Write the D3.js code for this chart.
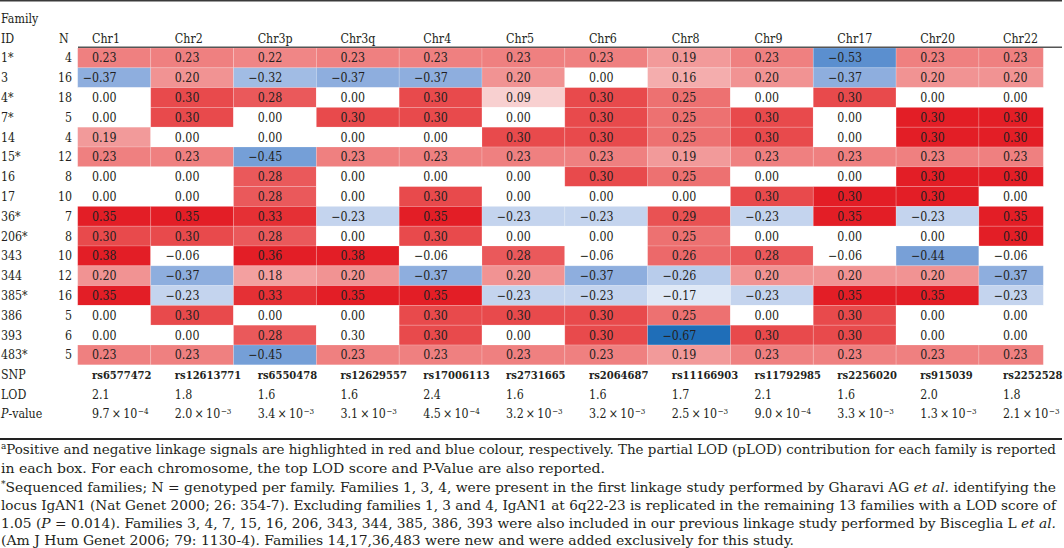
<!DOCTYPE html>
<html><head><meta charset="utf-8">
<script src="https://cdn.jsdelivr.net/npm/d3@7"></script>
<style>body{margin:0;background:#fff} svg{display:block}</style>
</head><body><svg id="chart" width="1064" height="548"></svg>
<script>
// ---------------- DATA ----------------
const chromosomes = ["Chr1","Chr2","Chr3p","Chr3q","Chr4","Chr5","Chr6","Chr8","Chr9","Chr17","Chr20","Chr22"];
const families = ["1*","3","4*","7*","14","15*","16","17","36*","206*","343","344","385*","386","393","483*"];
const familyN = [4,16,18,5,4,12,8,10,7,8,10,12,16,5,6,5];
const pLOD = [
  [0.23, 0.23, 0.22, 0.23, 0.23, 0.23, 0.23, 0.19, 0.23, -0.53, 0.23, 0.23],
  [-0.37, 0.20, -0.32, -0.37, -0.37, 0.20, 0.00, 0.16, 0.20, -0.37, 0.20, 0.20],
  [0.00, 0.30, 0.28, 0.00, 0.30, 0.09, 0.30, 0.25, 0.00, 0.30, 0.00, 0.00],
  [0.00, 0.30, 0.00, 0.30, 0.30, 0.00, 0.30, 0.25, 0.30, 0.00, 0.30, 0.30],
  [0.19, 0.00, 0.00, 0.00, 0.00, 0.30, 0.30, 0.25, 0.30, 0.00, 0.30, 0.30],
  [0.23, 0.23, -0.45, 0.23, 0.23, 0.23, 0.23, 0.19, 0.23, 0.23, 0.23, 0.23],
  [0.00, 0.00, 0.28, 0.00, 0.00, 0.00, 0.30, 0.25, 0.00, 0.00, 0.30, 0.30],
  [0.00, 0.00, 0.28, 0.00, 0.30, 0.00, 0.00, 0.00, 0.30, 0.30, 0.30, 0.00],
  [0.35, 0.35, 0.33, -0.23, 0.35, -0.23, -0.23, 0.29, -0.23, 0.35, -0.23, 0.35],
  [0.30, 0.30, 0.28, 0.00, 0.30, 0.00, 0.00, 0.25, 0.00, 0.00, 0.00, 0.30],
  [0.38, -0.06, 0.36, 0.38, -0.06, 0.28, -0.06, 0.26, 0.28, -0.06, -0.44, -0.06],
  [0.20, -0.37, 0.18, 0.20, -0.37, 0.20, -0.37, -0.26, 0.20, 0.20, 0.20, -0.37],
  [0.35, -0.23, 0.33, 0.35, 0.35, -0.23, -0.23, -0.17, -0.23, 0.35, 0.35, -0.23],
  [0.00, 0.30, 0.00, 0.00, 0.30, 0.30, 0.30, 0.25, 0.00, 0.30, 0.00, 0.00],
  [0.00, 0.00, 0.28, 0.30, 0.30, 0.00, 0.30, -0.67, 0.30, 0.30, 0.00, 0.00],
  [0.23, 0.23, -0.45, 0.23, 0.23, 0.23, 0.23, 0.19, 0.23, 0.23, 0.23, 0.23]
];
// cells highlighted more strongly / left unhighlighted in the original
const strongCells = [["7*","Chr20"],["14","Chr20"],["16","Chr20"],["17","Chr20"],["17","Chr17"],
                     ["7*","Chr22"],["14","Chr22"],["16","Chr22"],["206*","Chr22"]];
const plainCells = [["393","Chr3q"]];
const snps = ["rs6577472","rs12613771","rs6550478","rs12629557","rs17006113","rs2731665","rs2064687","rs11166903","rs11792985","rs2256020","rs915039","rs2252528"];
const lodScores = ["2.1","1.8","1.6","1.6","2.4","1.6","1.6","1.7","2.1","1.6","2.0","1.8"];
const pMantissa = ["9.7","2.0","3.4","3.1","4.5","3.2","3.2","2.5","9.0","3.3","1.3","2.1"];
const pExponent = [-4,-3,-3,-3,-4,-3,-3,-3,-4,-3,-3,-3];

// ---------------- LAYOUT ----------------
const svg = d3.select("#chart");
const ink = "#231f20";
const tableFont = "'DejaVu Serif Condensed', 'DejaVu Serif', serif";
const fs = 12.3;

const xText = d3.scalePoint().domain(chromosomes).range([92, 1003]);
const y = d3.scaleBand().domain(families).range([48, 364.8]);
const cellLeftStart = 77.7, cellRightEnd = 1043.3;

function styleText(sel, size) {
  return sel.attr("font-family", tableFont).attr("font-stretch", "condensed")
    .attr("font-size", size || fs).attr("fill", ink);
}

// measure width of a value string
const probe = styleText(svg.append("text")).text("0.00");
const valW = probe.node().getComputedTextLength();
probe.remove();

function edge(i) {
  if (i === 0) return cellLeftStart;
  if (i === chromosomes.length) return cellRightEnd;
  return (xText(chromosomes[i-1]) + xText(chromosomes[i])) / 2 + valW / 2 + 5;
}

const color = d3.scaleLinear()
  .domain([-0.67, -0.53, -0.37, -0.23, -0.10, 0, 0.09, 0.16, 0.23, 0.30, 0.35])
  .range(["#1f6eb8", "#5b8fcf", "#8eaede", "#c4d4ee", "#ffffff", "#ffffff",
          "#f8d0d0", "#f4adad", "#ef8080", "#e84a4c", "#e31e26"])
  .clamp(true);
const strongSet = new Set(strongCells.map(d => d.join("|")));
const plainSet = new Set(plainCells.map(d => d.join("|")));
function fillFor(f, c, v) {
  const k = f + "|" + c;
  if (plainSet.has(k)) return "#ffffff";
  if (strongSet.has(k)) return color(0.35);
  return color(v);
}

const cells = [];
families.forEach((f, r) => chromosomes.forEach((c, i) => cells.push({f, c, i, v: pLOD[r][i]})));

const g = svg.append("g");
g.selectAll("rect.cell").data(cells).join("rect")
  .attr("class", "cell")
  .attr("x", d => edge(d.i))
  .attr("width", d => edge(d.i + 1) - edge(d.i))
  .attr("y", d => y(d.f))
  .attr("height", y.bandwidth())
  .attr("fill", d => fillFor(d.f, d.c, d.v))
  .attr("stroke", "#ffffff").attr("stroke-opacity", 0.22).attr("stroke-width", 0.8);

const fmt = d3.format(".2f");
styleText(g.selectAll("text.val").data(cells).join("text"))
  .attr("class", "val")
  .attr("x", d => xText(d.c) + valW)
  .attr("y", d => y(d.f) + y.bandwidth() / 2)
  .attr("dy", "0.36em")
  .attr("text-anchor", "end")
  .text(d => fmt(d.v));

// rules
svg.append("line").attr("x1", 0).attr("x2", 1062).attr("y1", 0.8).attr("y2", 0.8)
  .attr("stroke", "#3a3a3a").attr("stroke-width", 1.6);
svg.append("line").attr("x1", 78).attr("x2", 1062).attr("y1", 47.3).attr("y2", 47.3)
  .attr("stroke", "#555").attr("stroke-width", 1.6);
svg.append("line").attr("x1", 0).attr("x2", 1062).attr("y1", 439).attr("y2", 439)
  .attr("stroke", "#222").attr("stroke-width", 2);

function label(x, yy, txt, anchor) {
  return styleText(svg.append("text")).attr("x", x).attr("y", yy).attr("dy", "0.36em")
    .attr("text-anchor", anchor || "start").text(txt);
}

// header
label(1, 19, "Family");
label(1, 39, "ID");
label(59, 39, "N");
styleText(svg.append("g").selectAll("text").data(chromosomes).join("text"))
  .attr("x", d => xText(d)).attr("y", 39).attr("dy", "0.36em")
  .text(d => d);

// row labels
styleText(svg.append("g").selectAll("text").data(families).join("text"))
  .attr("x", 1).attr("y", d => y(d) + y.bandwidth() / 2).attr("dy", "0.36em").text(d => d);
styleText(svg.append("g").selectAll("text").data(families).join("text"))
  .attr("x", 72).attr("y", d => y(d) + y.bandwidth() / 2).attr("dy", "0.36em")
  .attr("text-anchor", "end").text((d, i) => familyN[i]);

// SNP / LOD / P rows
const ySNP = 375, yLOD = 395, yP = 414;
label(1, ySNP, "SNP");
label(1, yLOD, "LOD");
const pl = label(1, yP, "");
pl.append("tspan").attr("font-style", "italic").text("P");
pl.append("tspan").text("-value");

styleText(svg.append("g").selectAll("text").data(snps).join("text"), 11.1)
  .attr("x", (d, i) => xText(chromosomes[i])).attr("y", ySNP).attr("dy", "0.36em")
  .attr("font-weight", "bold")
  .text(d => d);
styleText(svg.append("g").selectAll("text").data(lodScores).join("text"))
  .attr("x", (d, i) => xText(chromosomes[i])).attr("y", yLOD).attr("dy", "0.36em")
  .text(d => d);
const pv = styleText(svg.append("g").selectAll("text").data(pMantissa).join("text"))
  .attr("x", (d, i) => xText(chromosomes[i])).attr("y", yP).attr("dy", "0.36em");
pv.append("tspan").text(d => d + "\u2009\u00d7\u200910");
pv.append("tspan").attr("font-size", 8).attr("dy", "-0.55em").attr("dx", 0.5)
  .text((d, i) => "\u2212" + Math.abs(pExponent[i]));

// footnotes
const notes = [
  {y: 453.5, w: 1055, parts: [{t: "a", sup: true}, {t: "Positive and negative linkage signals are highlighted in red and blue colour, respectively. The partial LOD (pLOD) contribution for each family is reported"}]},
  {y: 472.5, w: 604, parts: [{t: "in each box. For each chromosome, the top LOD score and P-Value are also reported."}]},
  {y: 491.5, w: 1055, parts: [{t: "*", sup: true}, {t: "Sequenced families; N = genotyped per family. Families 1, 3, 4, were present in the first linkage study performed by Gharavi AG "}, {t: "et al.", it: true}, {t: " identifying the"}]},
  {y: 509.5, w: 1055, parts: [{t: "locus IgAN1 (Nat Genet 2000; 26: 354-7). Excluding families 1, 3 and 4, IgAN1 at 6q22-23 is replicated in the remaining 13 families with a LOD score of"}]},
  {y: 527.5, w: 1055, parts: [{t: "1.05 ("}, {t: "P", it: true}, {t: " = 0.014). Families 3, 4, 7, 15, 16, 206, 343, 344, 385, 386, 393 were also included in our previous linkage study performed by Bisceglia L "}, {t: "et al.", it: true}]},
  {y: 545, w: 793, parts: [{t: "(Am J Hum Genet 2006; 79: 1130-4). Families 14,17,36,483 were new and were added exclusively for this study."}]}
];
notes.forEach(n => {
  const t = styleText(svg.append("text"), 13.6).attr("x", 1).attr("y", n.y)
    .attr("textLength", n.w).attr("lengthAdjust", "spacingAndGlyphs");
  n.parts.forEach((p, i) => {
    const s = t.append("tspan").text(p.t);
    if (p.it) s.attr("font-style", "italic");
    if (p.sup) s.attr("font-size", 9).attr("dy", -5);
    else if (i > 0 && n.parts[i - 1].sup) s.attr("dy", 5);
  });
});
</script></body></html>
